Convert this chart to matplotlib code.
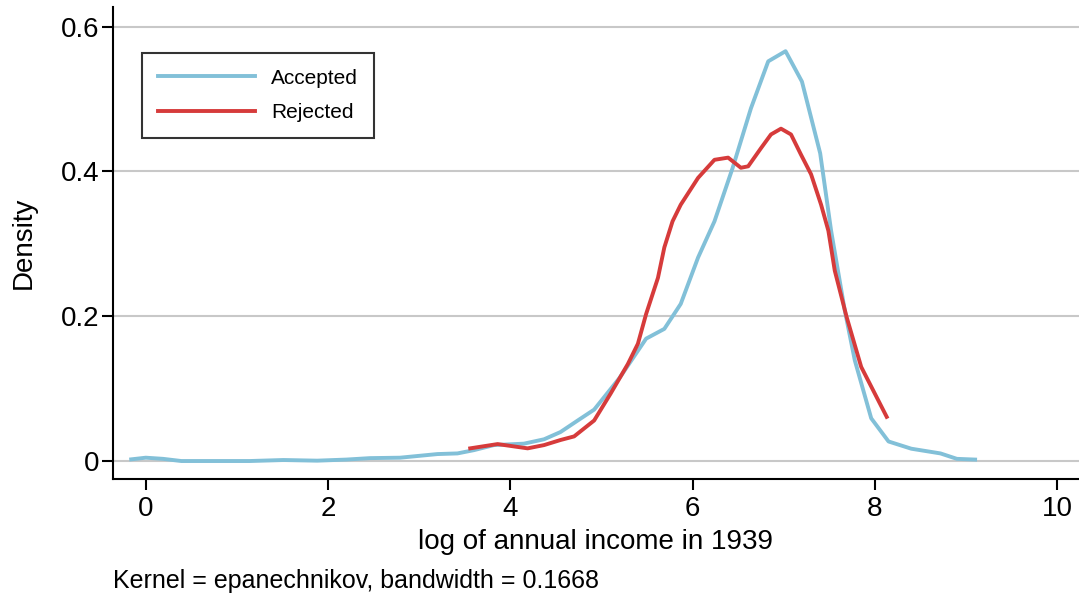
import matplotlib.pyplot as plt

plt.rcParams['font.family'] = ['Liberation Sans', 'DejaVu Sans']

# kernel density estimates of log income, by application outcome
acc_x = [-0.16, 0.0, 0.19, 0.39, 0.8, 1.14, 1.51, 1.88, 2.2, 2.46, 2.79, 3.2, 3.42, 3.6,
         3.82, 4.15, 4.37, 4.55, 4.74, 4.92, 5.2, 5.49, 5.69, 5.87, 6.06, 6.24, 6.44,
         6.64, 6.83, 7.02, 7.2, 7.4, 7.52, 7.67, 7.78, 7.96, 8.15, 8.4, 8.72, 8.9, 9.1]
acc_y = [0.0023, 0.0046, 0.003, 0.0, 0.0, 0.0, 0.0014, 0.0005, 0.002, 0.004, 0.0046,
         0.0096, 0.0105, 0.015, 0.022, 0.024, 0.030, 0.040, 0.056, 0.071, 0.115, 0.169,
         0.1825, 0.217, 0.281, 0.331, 0.405, 0.487, 0.552, 0.566, 0.524, 0.425, 0.318,
         0.208, 0.139, 0.059, 0.027, 0.017, 0.0105, 0.003, 0.002]

rej_x = [3.56, 3.86, 4.19, 4.37, 4.55, 4.7, 4.92, 5.1, 5.29, 5.4, 5.49, 5.62, 5.69,
         5.78, 5.87, 6.06, 6.24, 6.39, 6.53, 6.61, 6.75, 6.86, 6.97, 7.08, 7.19, 7.3,
         7.41, 7.49, 7.56, 7.69, 7.85, 8.13]
rej_y = [0.0175, 0.0234, 0.0175, 0.022, 0.029, 0.034, 0.056, 0.093, 0.134, 0.162,
         0.203, 0.253, 0.295, 0.331, 0.354, 0.391, 0.416, 0.419, 0.405, 0.407, 0.432,
         0.451, 0.459, 0.451, 0.423, 0.396, 0.354, 0.318, 0.263, 0.199, 0.130, 0.061]

fig = plt.figure(figsize=(10.79, 6), dpi=100)
ax = fig.add_axes([0.1047, 0.2017, 0.8953, 0.7866])

ax.plot(acc_x, acc_y, color='#82c0d8', lw=2.8, label='Accepted')
ax.plot(rej_x, rej_y, color='#d63b3b', lw=2.8, label='Rejected')

ax.set_xlim(-0.36, 10.24)
ax.set_ylim(-0.0248, 0.627)
ax.set_xticks([0, 2, 4, 6, 8, 10])
ax.set_yticks([0, 0.2, 0.4, 0.6])
ax.set_yticklabels(['0', '0.2', '0.4', '0.6'])
ax.yaxis.grid(True, color='#c8c8c8', lw=1.5)
ax.set_axisbelow(True)
for s in ['top', 'right']:
    ax.spines[s].set_visible(False)
for s in ['left', 'bottom']:
    ax.spines[s].set_linewidth(1.5)
ax.tick_params(axis='both', direction='out', length=8, width=1.5, labelsize=20)
ax.tick_params(axis='x', pad=4)
ax.tick_params(axis='y', pad=2)

ax.set_xlabel('log of annual income in 1939', fontsize=20, labelpad=5)
ax.set_ylabel('Density', fontsize=20, labelpad=17)

leg = ax.legend(loc='upper left', bbox_to_anchor=(0.030, 0.9025), fontsize=15,
                frameon=True, fancybox=False, handlelength=4.7, handletextpad=0.75,
                borderpad=0.75, labelspacing=0.75, borderaxespad=0)
leg.get_frame().set_edgecolor('black')
leg.get_frame().set_linewidth(1.5)

fig.text(0.105, 0.02, 'Kernel = epanechnikov, bandwidth = 0.1668', fontsize=18)

fig.savefig('out.png', dpi=100)
